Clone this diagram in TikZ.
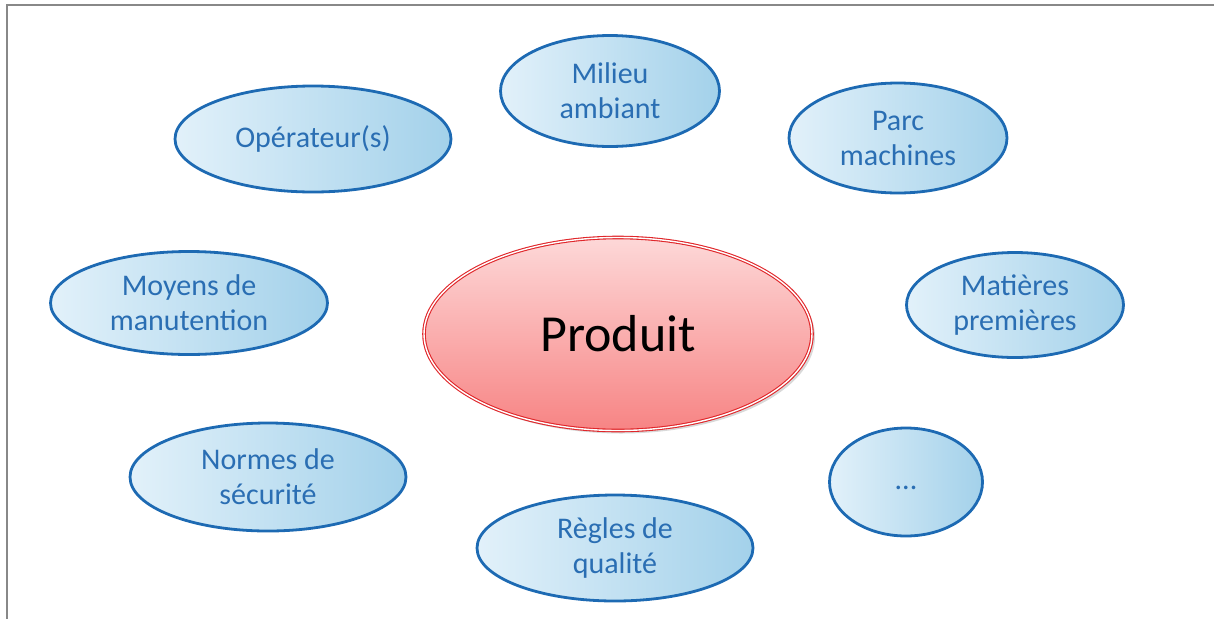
\documentclass[tikz,border=0pt]{standalone}
\usepackage{fontspec}
\setmainfont{Carlito}
\usetikzlibrary{shapes.geometric,shadows}
\definecolor{bord}{HTML}{1D6AB3}
\definecolor{txtblue}{HTML}{2A6EB3}
\definecolor{lightb}{HTML}{E2F1FA}
\definecolor{darkb}{HTML}{A3D1EA}
\definecolor{prodtop}{HTML}{FDD8D8}
\definecolor{prodbot}{HTML}{F78484}
\definecolor{prodline}{HTML}{E0262A}
\definecolor{frame}{HTML}{888888}
\tikzset{
  bubble/.style={ellipse, draw=bord, line width=2.8pt, left color=lightb, right color=darkb,
    inner sep=0pt, align=center, text=txtblue,
    font=\fontsize{30}{35}\selectfont},
  center/.style={ellipse, draw=prodline, double=white, double distance=1.4pt, line width=1.1pt,
    top color=prodtop, bottom color=prodbot, inner sep=0pt,
    font=\fontsize{52}{60}\selectfont,
    drop shadow={shadow xshift=3pt, shadow yshift=-3pt, opacity=0.25, fill=black!60}},
  frameline/.style={draw=frame, line width=2pt}
}
\begin{document}
\begin{tikzpicture}[x=1pt,y=-1pt]
\useasboundingbox (0,0) rectangle (1214,619);
\coordinate (tl) at (7,5);
\coordinate (tr) at (1214,5);
\coordinate (bl) at (7,619);
\draw[frameline] (tr) -- (tl) -- (bl);

\node[center, minimum width=388pt, minimum height=193pt] (prod) at (618,334) {Produit};

\node[bubble, minimum width=276pt, minimum height=106pt] (oper) at (313,139) {Opérateur(s)};
\node[bubble, minimum width=219pt, minimum height=111pt] (milieu) at (610,91) {Milieu\\ambiant};
\node[bubble, minimum width=218pt, minimum height=110pt] (parc) at (898,138) {Parc\\machines};
\node[bubble, minimum width=277pt, minimum height=103pt] (moyens) at (189,303) {Moyens de\\manutention};
\node[bubble, minimum width=217pt, minimum height=105pt] (mat) at (1015,305) {Matières\\premières};
\node[bubble, minimum width=276pt, minimum height=108pt] (normes) at (268,477) {Normes de\\sécurité};
\node[bubble, minimum width=153pt, minimum height=108pt] (etc) at (906,482) {\strut...};
\node[bubble, minimum width=276pt, minimum height=106pt] (regles) at (615,548) {Règles de\\qualité};
\end{tikzpicture}
\end{document}
